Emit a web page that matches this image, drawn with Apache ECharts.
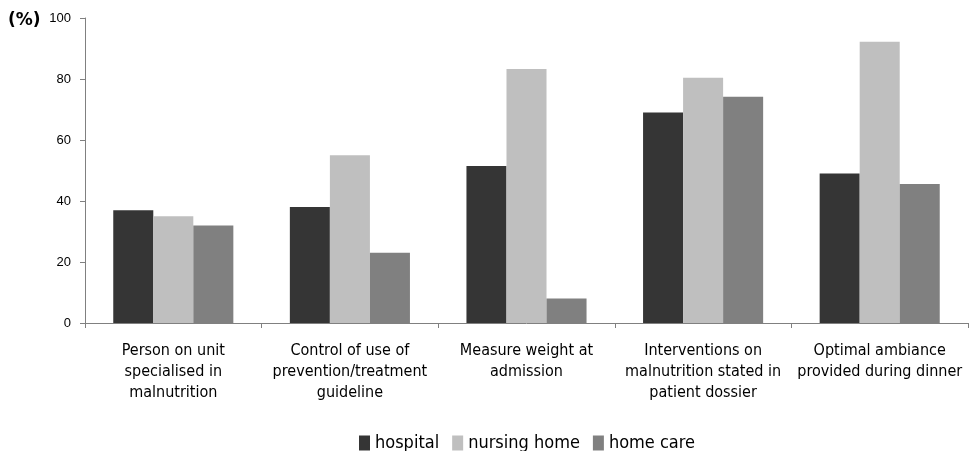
<!DOCTYPE html>
<html><head><meta charset="utf-8">
<script src="https://cdn.jsdelivr.net/npm/echarts@6/dist/echarts.min.js"></script>
<style>html,body{margin:0;padding:0;background:#fff}#c{width:969px;height:451px}</style>
</head><body><div id="c"></div>
<script>
const categories = [
  "Person on unit\nspecialised in\nmalnutrition",
  "Control of use of\nprevention/treatment\nguideline",
  "Measure weight at\nadmission",
  "Interventions on\nmalnutrition stated in\npatient dossier",
  "Optimal ambiance\nprovided during dinner"
];
const seriesNames = ["hospital", "nursing home", "home care"];
const hospital = [37, 38, 51.5, 69, 49];
const nursingHome = [35, 55, 83.3, 80.4, 92.2];
const homeCare = [32, 23, 8, 74.2, 45.6];
const yTicks = [0, 20, 40, 60, 80, 100];

const colors = ["#353535", "#bfbfbf", "#808080"];
const chart = echarts.init(document.getElementById('c'));
chart.setOption({
  animation: false,
  color: colors,
  grid: {left: 85, right: 1, top: 18, bottom: 128, containLabel: false},
  graphic: [{type: 'text', left: 8, top: 12, style: {text: '(%)', font: 'bold 17px "DejaVu Sans"', fill: '#000'}}],
  legend: {
    data: seriesNames, top: 434, left: 359, itemWidth: 11, itemHeight: 15, itemGap: 13,
    padding: 0, icon: 'rect',
    textStyle: {fontFamily: '"DejaVu Sans Condensed"', fontSize: 18, color: '#000'}
  },
  xAxis: {
    type: 'category', data: categories,
    axisLine: {lineStyle: {color: '#808080', width: 1}},
    axisTick: {show: true, length: 5, lineStyle: {color: '#808080'}},
    axisLabel: {interval: 0, margin: 17, fontFamily: '"DejaVu Sans Condensed"', fontSize: 16, color: '#000', lineHeight: 21}
  },
  yAxis: {
    type: 'value', min: 0, max: 100, interval: 20,
    axisLine: {show: true, lineStyle: {color: '#808080'}},
    axisTick: {show: true, length: 5, inside: false, lineStyle: {color: '#808080'}},
    splitLine: {show: false},
    axisLabel: {margin: 14, fontFamily: '"Liberation Sans"', fontSize: 13, color: '#000',
      formatter: v => yTicks.includes(v) ? String(v) : ''}
  },
  series: [
    {name: seriesNames[0], type: 'bar', data: hospital, barGap: '0%', barCategoryGap: '32%'},
    {name: seriesNames[1], type: 'bar', data: nursingHome, barGap: '0%', barCategoryGap: '32%'},
    {name: seriesNames[2], type: 'bar', data: homeCare, barGap: '0%', barCategoryGap: '32%'}
  ]
});
</script></body></html>
